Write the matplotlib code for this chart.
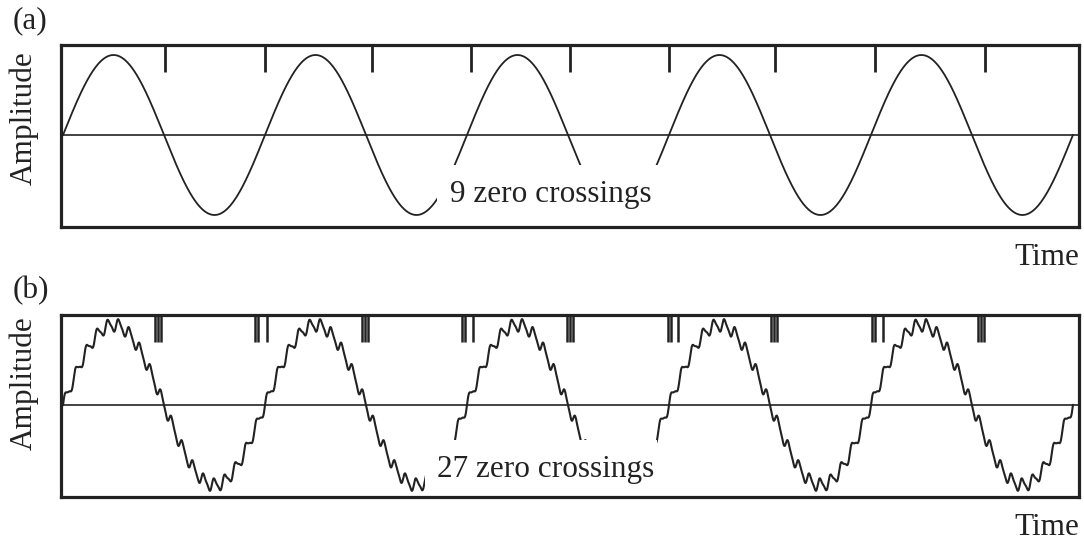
import numpy as np
import matplotlib
matplotlib.use("Agg")
import matplotlib.pyplot as plt
from matplotlib.patches import Rectangle

plt.rcParams['font.family'] = ['Liberation Serif', 'DejaVu Serif']

# ---- data ----
n_cycles = 5                 # sine cycles shown
noise_amp = [0.075, 0.02]    # ripple amplitudes in panel (b)
noise_harm = [19, 38]        # ripple harmonics (cycles per sine period)
# zero-crossing tick positions (in sine periods)
ticks_a = [0.505, 1.0, 1.53, 2.02, 2.51, 3.0, 3.525, 4.02, 4.565]
ticks_b = [0.455, 0.47, 0.485,
           0.95, 0.965, 1.01,
           1.48, 1.495, 1.51,
           1.975, 1.99, 2.03,
           2.495, 2.51, 2.525,
           2.995, 3.01, 3.045,
           3.505, 3.52, 3.535,
           4.005, 4.02, 4.06,
           4.53, 4.545, 4.56]
labels = ['(a)', '(b)']
notes = ['9 zero crossings', '27 zero crossings']

W, H = 1084, 542
fig = plt.figure(figsize=(W/100, H/100), dpi=100)
ink = '#222222'
fs = 22.5

def fx(x): return x / W
def fy(y): return 1 - y / H

t = np.linspace(0, n_cycles, 6000)
clean = np.sin(2*np.pi*t)
noisy = clean + sum(a*np.sin(2*np.pi*h*t) for a, h in zip(noise_amp, noise_harm))

panels = [
    dict(top=45, bot=227, y=clean, ticks=ticks_a, lw_t=2.0, lw=1.3, mask=(1.85, 2.955, -0.375)),
    dict(top=315, bot=497, y=noisy, ticks=ticks_b, lw_t=1.8, lw=1.5, mask=(1.79, 2.94, -0.44)),
]
text_pos = [dict(lab=(13, 28), amp=(24, 118), time=(1079, 265), note=(450, 202)),
            dict(lab=(13, 298), amp=(24, 383), time=(1079, 535), note=(437, 477))]

for i, p in enumerate(panels):
    ax = fig.add_axes([fx(61), fy(p['bot']), fx(1079) - fx(61), (p['bot'] - p['top'])/H])
    ax.set_xlim(-0.01, 5.03)
    ax.set_ylim(-1.15, 1.125)
    ax.plot(t, p['y'], color=ink, lw=p['lw'], zorder=2)
    ax.axhline(0, color=ink, lw=1.2, zorder=1)
    ax.vlines(p['ticks'], 0.79, 1.125, color=ink, lw=p['lw_t'], zorder=3)
    x0, x1, ytop = p['mask']
    ax.add_patch(Rectangle((x0, -1.3), x1 - x0, ytop + 1.3, facecolor='white',
                           edgecolor='none', zorder=4))
    ax.set_xticks([]); ax.set_yticks([])
    for s in ax.spines.values():
        s.set_linewidth(2.3); s.set_color(ink); s.set_zorder(5)
    tp = text_pos[i]
    fig.text(fx(tp['lab'][0]), fy(tp['lab'][1]), labels[i], fontsize=fs, color=ink,
             ha='left', va='baseline')
    fig.text(fx(tp['amp'][0]), fy(tp['amp'][1]), 'Amplitude', fontsize=fs, color=ink,
             rotation=90, ha='center', va='center')
    fig.text(fx(tp['time'][0]), fy(tp['time'][1]), 'Time', fontsize=fs, color=ink,
             ha='right', va='baseline')
    fig.text(fx(tp['note'][0]), fy(tp['note'][1]), notes[i], fontsize=fs, color=ink,
             ha='left', va='baseline', zorder=6)

fig.savefig('out.png', dpi=100, facecolor='white')
